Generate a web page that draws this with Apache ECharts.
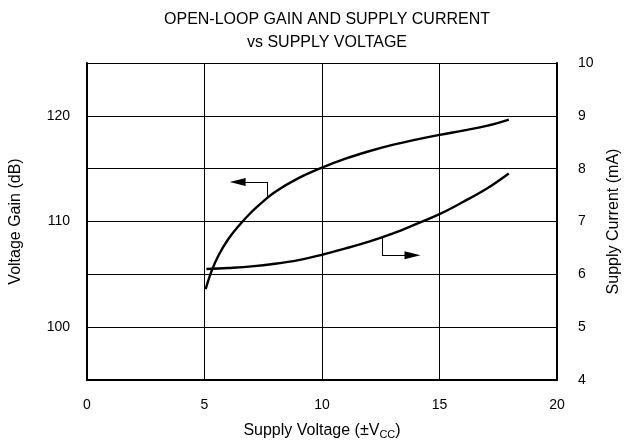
<!DOCTYPE html>
<html>
<head>
<meta charset="utf-8">
<script src="https://cdn.jsdelivr.net/npm/echarts@6/dist/echarts.min.js"></script>
<style>
  html, body { margin: 0; padding: 0; background: #fff; }
  #chart { width: 631px; height: 445px; }
</style>
</head>
<body>
<div id="chart"></div>
<script>
// gain curve (left axis)
const gainVolts = [5.05, 5.3, 5.6, 6.0, 6.5, 7.0, 7.5, 8.0, 9.0, 10.0, 11.0, 12.0, 13.0, 14.0, 15.0, 16.0, 17.0, 17.95];
const gainDb = [103.6, 105.3, 106.8, 108.3, 109.7, 110.9, 111.9, 112.8, 114.1, 115.1, 115.95, 116.65, 117.25, 117.75, 118.2, 118.6, 119.05, 119.65];

// supply current curve (right axis)
const currVolts = [5.08, 6, 7, 8, 9, 10, 11, 12, 13, 14, 15, 16, 17, 17.95];
const currMa = [6.10, 6.12, 6.15, 6.20, 6.27, 6.37, 6.49, 6.62, 6.77, 6.95, 7.14, 7.37, 7.62, 7.91];

// pointer arrows: [corner x, tip x, level, foot]
const gainArrow = [7.68, 6.41, 113.75, 112.3];
const currArrow = [12.55, 13.85, 6.36, 6.69];

const font = 'Liberation Sans, Arial, sans-serif';

const chart = echarts.init(document.getElementById('chart'));

function pairs(xs, ys) {
  return xs.map((x, i) => [x, ys[i]]);
}

function arrowLines(a) {
  return [
    [{ coord: [a[0], a[3]], symbol: 'none' }, { coord: [a[0], a[2]], symbol: 'none' }],
    [{ coord: [a[0], a[2]], symbol: 'none' }, { coord: [a[1], a[2]], symbol: 'triangle' }]
  ];
}

const option = {
  animation: false,
  backgroundColor: '#fff',
  title: {
    text: 'OPEN-LOOP GAIN AND SUPPLY CURRENT\nvs SUPPLY VOLTAGE',
    left: 322,
    textAlign: 'center',
    top: 3,
    textStyle: { fontFamily: font, fontSize: 16, fontWeight: 'normal', color: '#000', lineHeight: 23 }
  },
  grid: { left: 87, right: 74, top: 63, bottom: 64 },
  xAxis: {
    type: 'value', min: 0, max: 20, interval: 5,
    name: '{a|Supply Voltage (±V}{s|CC}{a|)}',
    nameLocation: 'middle', nameGap: 42,
    nameTextStyle: {
      rich: {
        a: { fontFamily: font, fontSize: 16, color: '#000' },
        s: { fontFamily: font, fontSize: 11, color: '#000', verticalAlign: 'bottom', padding: [7, 0, 0, 0] }
      }
    },
    axisLine: { show: true, lineStyle: { color: '#000', width: 2 } },
    axisTick: { show: false },
    axisLabel: { fontFamily: font, fontSize: 14, color: '#000', margin: 18 },
    splitLine: { show: true, lineStyle: { color: '#000', width: 1 } }
  },
  yAxis: [
    {
      type: 'value', min: 95, max: 125, interval: 5, position: 'left',
      name: 'Voltage Gain (dB)', nameLocation: 'middle', nameGap: 63,
      nameTextStyle: { fontFamily: font, fontSize: 16, color: '#000' },
      axisLine: { show: true, lineStyle: { color: '#000', width: 2 } },
      axisTick: { show: false },
      axisLabel: {
        fontFamily: font, fontSize: 14, color: '#000', margin: 17,
        formatter: v => (v % 10 === 0 ? String(v) : '')
      },
      splitLine: { show: true, lineStyle: { color: '#000', width: 1 } }
    },
    {
      type: 'value', min: 4, max: 10, interval: 1, position: 'right',
      name: 'Supply Current (mA)', nameLocation: 'middle', nameGap: 49,
      nameRotate: 90,
      nameTextStyle: { fontFamily: font, fontSize: 16, color: '#000' },
      axisLine: { show: true, lineStyle: { color: '#000', width: 2 } },
      axisTick: { show: false },
      axisLabel: { fontFamily: font, fontSize: 14, color: '#000', margin: 21 },
      splitLine: { show: false }
    }
  ],
  series: [
    {
      type: 'line', yAxisIndex: 0, smooth: 0.4, showSymbol: false,
      data: pairs(gainVolts, gainDb),
      lineStyle: { color: '#000', width: 2.4 },
      markLine: {
        silent: true, symbolSize: [8, 16],
        label: { show: false },
        lineStyle: { color: '#000', width: 1, type: 'solid' },
        data: arrowLines(gainArrow)
      }
    },
    {
      type: 'line', yAxisIndex: 1, smooth: 0.4, showSymbol: false,
      data: pairs(currVolts, currMa),
      lineStyle: { color: '#000', width: 2.4 },
      markLine: {
        silent: true, symbolSize: [8, 16],
        label: { show: false },
        lineStyle: { color: '#000', width: 1, type: 'solid' },
        data: arrowLines(currArrow)
      }
    }
  ]
};

chart.setOption(option);
</script>
</body>
</html>
